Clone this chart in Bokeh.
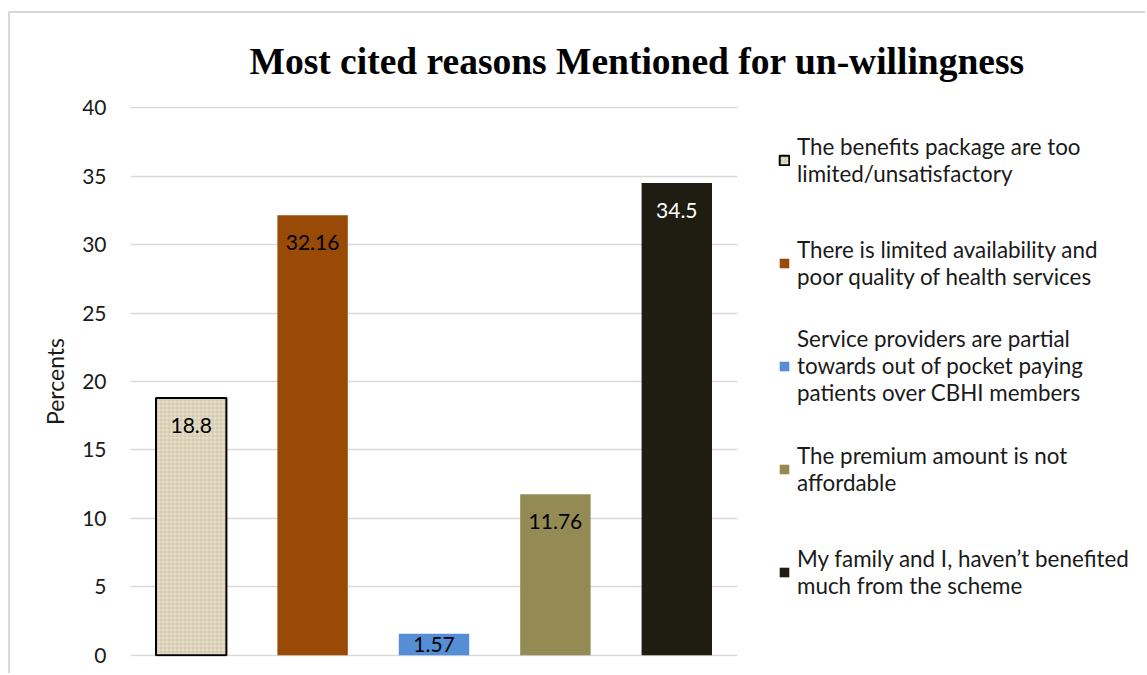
from bokeh.plotting import figure
from bokeh.models import Range1d, Legend, LegendItem, FixedTicker
from bokeh.embed import file_html
from bokeh.resources import INLINE

# ---- data ----
categories = ["Benefits limited", "Limited availability", "Service providers partial",
              "Premium not affordable", "Not benefited"]
legend_labels = [
    "The benefits package are too\nlimited/unsatisfactory",
    "There is limited availability and\npoor quality of health services",
    "Service providers are partial\ntowards out of pocket paying\npatients over CBHI members",
    "The premium amount is not\naffordable",
    "My family and I, haven\u2019t benefited\nmuch from the scheme",
]
percents = [18.8, 32.16, 1.57, 11.76, 34.5]
value_labels = ["18.8", "32.16", "1.57", "11.76", "34.5"]
y_ticks = [0, 5, 10, 15, 20, 25, 30, 35, 40]

# ---- styles ----
bar_colors = ["#e6dec9", "#994a07", "#558ed5", "#948a54", "#1f1c12"]
label_colors = ["black", "black", "black", "black", "white"]
label_offsets = [28, 27, 11, 27, 27]
FONT = "Lato"

n = len(categories)
xpos = [i + 0.5 for i in range(n)]          # category slots on the x scale
PX_PER_SLOT = 121.4
FRAME_W = 1017

p = figure(width=1137, height=662, output_backend="svg", toolbar_location=None,
           x_range=Range1d(0, FRAME_W / PX_PER_SLOT),
           y_range=Range1d(-0.1, 40.1),
           min_border_left=120, min_border_right=0, min_border_top=93, min_border_bottom=19)
p.margin = (11, 0, 0, 8)
p.styles = {"border-left": "2px solid #d9d9d9", "border-top": "2px solid #d9d9d9"}
p.outline_line_color = None
p.background_fill_color = "white"
p.border_fill_color = "white"

p.xaxis.visible = False
p.xgrid.visible = False
p.ygrid.grid_line_color = "#d9d9d9"
p.ygrid.grid_line_width = 1.5
p.ygrid.cross_bounds = (0, n)
p.yaxis.ticker = FixedTicker(ticks=y_ticks)
p.ygrid.ticker = FixedTicker(ticks=y_ticks)
p.yaxis.axis_line_color = None
p.yaxis.major_tick_line_color = None
p.yaxis.minor_tick_line_color = None
p.yaxis.major_label_standoff = 18
p.yaxis.major_label_text_font = FONT
p.yaxis.major_label_text_font_size = "21px"
p.yaxis.major_label_text_color = "#1a1a1a"
p.yaxis.axis_label = "Percents"
p.yaxis.axis_label_text_font = FONT
p.yaxis.axis_label_text_font_size = "23px"
p.yaxis.axis_label_text_font_style = "normal"
p.yaxis.axis_label_text_color = "#1a1a1a"
p.yaxis.axis_label_standoff = 10

p.title.text = "Most cited reasons Mentioned for un-willingness"
p.title.text_font = "Liberation Serif"
p.title.text_font_size = "37.5px"
p.title.text_font_style = "bold"
p.title.text_color = "black"
p.title.align = "left"
p.title.offset = 119
p.title.standoff = 49

renderers = []
for i in range(n):
    if i == 0:
        r = p.vbar(x=[xpos[i]], top=[percents[i]], width=0.58, fill_color=bar_colors[i],
                   line_color="black", line_width=2,
                   hatch_pattern="+", hatch_color="#c4b99c", hatch_scale=4, hatch_weight=1, hatch_alpha=0.6)
    else:
        r = p.vbar(x=[xpos[i]], top=[percents[i]], width=0.58, fill_color=bar_colors[i],
                   line_color=None)
    renderers.append(r)

p.text(x=xpos, y=percents, text=value_labels, y_offset=label_offsets,
       text_align="center", text_baseline="middle", text_color=label_colors,
       text_font={"value": FONT}, text_font_size={"value": "21px"})

legend = Legend(items=[LegendItem(label=legend_labels[i], renderers=[renderers[i]])
                       for i in range(n)],
                location=(648, 44), padding=0, margin=0, border_line_color=None,
                background_fill_alpha=0, glyph_width=12, glyph_height=12,
                label_standoff=7, spacing=22, label_height=81, label_text_font=FONT,
                label_text_font_size="22.4px", label_text_color="#1a1a1a")
p.add_layout(legend, "center")

open("out.html", "w").write(file_html(p, INLINE))
